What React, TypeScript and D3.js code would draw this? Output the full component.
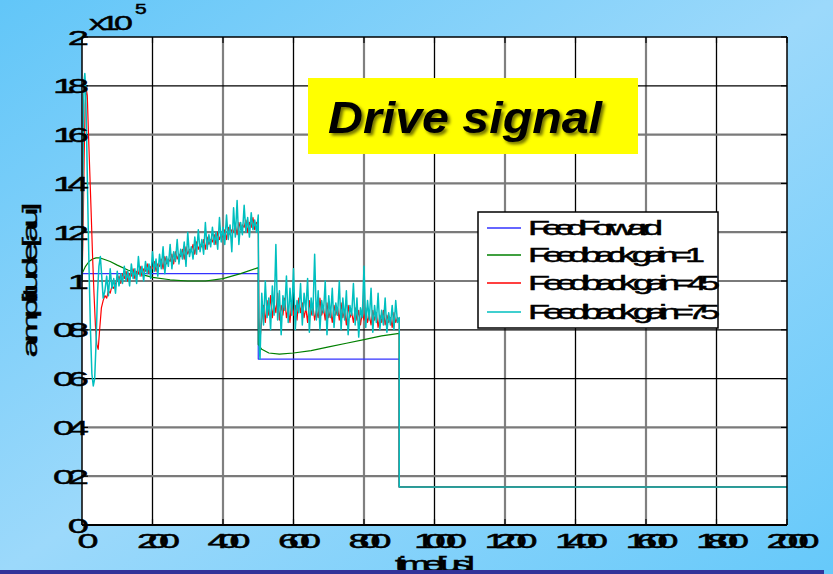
import React from 'react';
import * as d3 from 'd3';

const W = 833;
const H = 574;

const xTicks = [0, 200, 400, 600, 800, 1000, 1200, 1400, 1600, 1800, 2000];
const xTickLabels = ['0', '200', '400', '600', '800', '1000', '1200', '1400', '1600', '1800', '2000'];
const yTicks = [0, 0.2, 0.4, 0.6, 0.8, 1.0, 1.2, 1.4, 1.6, 1.8, 2.0];
const yTickLabels = ['0', '02', '04', '06', '08', '1', '12', '14', '16', '18', '2'];

const seriesNames = ['FeedForward', 'Feedback gain=1', 'Feedback gain=45', 'Feedback gain=75'];
const seriesColors = ['#3333ff', '#008000', '#ff0000', '#00bfbf'];

const titleText = 'Drive signal';
const xLabel = 'time[us]';
const yLabel = 'amplitude[au]';

// Feed forward (blue)
const ffTimes = [0, 500, 500, 900, 900, 2000];
const ffValues = [1.03, 1.03, 0.68, 0.68, 0.156, 0.156];

// Feedback gain = 1 (green)
const g1Times = [0, 10, 20, 30, 40, 50, 60, 80, 100, 130, 160, 200, 250, 300, 350, 400, 450, 500, 500, 510, 530, 560, 600, 650, 700, 750, 800, 850, 900, 900, 2000];
const g1Values = [1.03, 1.06, 1.08, 1.09, 1.095, 1.095, 1.09, 1.08, 1.065, 1.045, 1.03, 1.015, 1.005, 1.0, 1.0, 1.01, 1.03, 1.055, 0.74, 0.72, 0.705, 0.7, 0.705, 0.715, 0.73, 0.745, 0.76, 0.775, 0.785, 0.156, 0.156];

// Feedback gain = 4.5 (red)
const g45TransT = [0, 3, 6, 9, 12, 15, 18, 22, 26, 30, 34, 38, 42, 46, 50, 55, 60, 65, 70, 75, 80, 85, 90, 95];
const g45TransV = [1.0, 1.2, 1.5, 1.72, 1.79, 1.76, 1.62, 1.45, 1.28, 1.1, 0.95, 0.82, 0.74, 0.72, 0.8, 0.89, 0.92, 0.94, 0.93, 0.96, 0.95, 0.98, 0.97, 0.99];
// t = 100..500 every 5
const g45Ramp = [
  1.0, 1.02, 0.99, 1.03, 1.01, 1.04, 1.0, 1.03, 1.02, 1.05,
  1.01, 1.04, 1.03, 1.06, 1.02, 1.05, 1.04, 1.07, 1.03, 1.06,
  1.05, 1.08, 1.04, 1.07, 1.06, 1.09, 1.05, 1.1, 1.07, 1.09,
  1.08, 1.11, 1.07, 1.12, 1.09, 1.11, 1.1, 1.13, 1.09, 1.14,
  1.11, 1.13, 1.12, 1.15, 1.11, 1.16, 1.13, 1.15, 1.14, 1.17,
  1.13, 1.18, 1.15, 1.17, 1.16, 1.19, 1.15, 1.2, 1.17, 1.19,
  1.18, 1.21, 1.17, 1.22, 1.19, 1.21, 1.2, 1.23, 1.19, 1.24,
  1.21, 1.23, 1.22, 1.25, 1.2, 1.24, 1.22, 1.26, 1.21, 1.24,
  1.23,
];
const g45DropT = [502];
const g45DropV = [0.85];
// t = 505..900 every 5
const g45Flat = [
  0.76, 0.84, 0.9, 0.83, 0.92, 0.86, 0.94, 0.85, 0.91, 0.87,
  0.95, 0.84, 0.9, 0.86, 0.93, 0.85, 0.89, 0.83, 0.92, 0.86,
  0.9, 0.84, 0.93, 0.87, 0.91, 0.85, 0.89, 0.83, 0.92, 0.86,
  0.9, 0.84, 0.88, 0.85, 0.93, 0.86, 0.89, 0.84, 0.91, 0.85,
  0.88, 0.83, 0.9, 0.86, 0.89, 0.84, 0.91, 0.85, 0.88, 0.82,
  0.9, 0.85, 0.87, 0.83, 0.89, 0.84, 0.88, 0.82, 0.87, 0.84,
  0.89, 0.83, 0.86, 0.82, 0.88, 0.84, 0.87, 0.81, 0.86, 0.83,
  0.88, 0.82, 0.86, 0.83, 0.85, 0.81, 0.87, 0.83, 0.85, 0.84,
];

// Feedback gain = 7.5 (cyan)
const g75TransT = [0, 2, 4, 6, 8, 10, 13, 16, 20, 24, 28, 32, 36, 40, 44, 48, 52, 56, 60];
const g75TransV = [1.0, 1.3, 1.65, 1.82, 1.85, 1.8, 1.6, 1.35, 1.05, 0.8, 0.62, 0.57, 0.6, 0.75, 0.95, 1.06, 1.1, 1.02, 0.93];
// t = 65..500 every 5
const g75Ramp = [
  0.96, 1.02, 0.94, 1.05, 0.97, 1.01, 0.95, 1.04, 0.98, 1.03,
  0.99, 1.06, 1.0, 1.04, 0.98, 1.07, 1.01, 1.05, 0.99, 1.1,
  1.02, 1.06, 1.0, 1.08, 1.03, 1.07, 1.01, 1.12, 1.04, 1.09,
  1.02, 1.11, 1.05, 1.14, 1.03, 1.1, 1.06, 1.15, 1.05, 1.12,
  1.08, 1.17, 1.07, 1.13, 1.09, 1.16, 1.06, 1.2, 1.1, 1.14,
  1.09, 1.18, 1.11, 1.21, 1.12, 1.17, 1.11, 1.24, 1.13, 1.19,
  1.14, 1.22, 1.15, 1.2, 1.13, 1.26, 1.16, 1.22, 1.15, 1.27,
  1.17, 1.23, 1.12, 1.3, 1.18, 1.33, 1.15, 1.24, 1.19, 1.31,
  1.2, 1.26, 1.18, 1.28, 1.21, 1.25, 1.2, 1.27,
];
const g75DropT = [501, 503];
const g75DropV = [0.95, 0.72];
// t = 505..900 every 5
const g75Flat = [
  0.68, 0.95, 0.82, 1.0, 0.85, 0.93, 0.8, 0.98, 0.86, 1.15,
  0.84, 0.96, 0.78, 0.94, 0.88, 1.02, 0.83, 0.97, 0.86, 1.05,
  0.8, 0.92, 0.87, 0.99, 0.82, 0.95, 0.88, 1.01, 0.79, 0.93,
  0.86, 1.11, 0.84, 0.96, 0.8, 0.92, 0.87, 1.0, 0.78, 0.94,
  0.85, 0.97, 0.81, 0.91, 0.86, 1.0, 0.8, 0.93, 0.84, 0.96,
  0.78, 0.9, 0.86, 0.99, 0.82, 0.93, 0.77, 0.89, 0.85, 1.06,
  0.81, 0.92, 0.84, 0.97, 0.79, 0.9, 0.83, 0.95, 0.8, 0.88,
  0.82, 0.93, 0.79, 0.87, 0.82, 0.9, 0.8, 0.92, 0.83, 0.85,
];

const tailTimes = [900, 2000];
const tailValues = [0.156, 0.156];

type P = [number, number];
const zip = (ts: number[], vs: number[]): P[] => ts.map((t, i) => [t, vs[i]] as P);
const stepped = (start: number, step: number, vs: number[]): P[] => vs.map((v, i) => [start + step * i, v] as P);

const seriesData: P[][] = [
  zip(ffTimes, ffValues),
  zip(g1Times, g1Values),
  [...zip(g45TransT, g45TransV), ...stepped(100, 5, g45Ramp), ...zip(g45DropT, g45DropV), ...stepped(505, 5, g45Flat), ...zip(tailTimes, tailValues)],
  [...zip(g75TransT, g75TransV), ...stepped(65, 5, g75Ramp), ...zip(g75DropT, g75DropV), ...stepped(505, 5, g75Flat), ...zip(tailTimes, tailValues)],
];

const FONT = "'Liberation Sans', Arial, Helvetica, sans-serif";

function SText(props: { x: number; y: number; text: string; size: number; sx: number; width?: number; anchor?: string; rotate?: number; fill?: string }) {
  const { x, y, text, size, sx, width, anchor = 'start', rotate = 0, fill = '#000' } = props;
  const t = `translate(${x},${y})${rotate ? ` rotate(${rotate})` : ''} scale(${sx},1)`;
  const extra: any = {};
  if (width && text.length > 1) {
    extra.textLength = width / sx;
    extra.lengthAdjust = 'spacing';
  }
  return (
    <text transform={t} fontSize={size} textAnchor={anchor as any} fontFamily={FONT} fill={fill} stroke={fill} strokeWidth={0.45} {...extra}>
      {text}
    </text>
  );
}

export default function App() {
  const left = 82, right = 787, top = 37, bottom = 525;
  const x = d3.scaleLinear().domain([0, 2000]).range([left, right]);
  const y = d3.scaleLinear().domain([0, 2]).range([bottom, top]);
  const line = d3.line<P>().x((d) => x(d[0])).y((d) => y(d[1]));

  const vGridStyle = (i: number) => (i % 2 === 1 ? { stroke: '#808080', w: 2.2 } : { stroke: '#000', w: 1.3 });
  const hBlack = [0.6, 0.8, 1.8];
  const hGridStyle = (v: number) => (hBlack.some((b) => Math.abs(b - v) < 1e-6) ? { stroke: '#000', w: 1.3 } : { stroke: '#7a7a7a', w: 2.2 });

  const legendX = 478, legendY = 212, legendW = 240, legendH = 116;
  const legendRows = [16, 43, 71, 100];
  const legendWidths = [135, 177, 192, 192];

  const xLabelW = (s: string) => (s.length === 1 ? 21 : s.length === 3 ? 43 : 53);
  const yLabelW = (s: string) => (s.length === 1 ? 20 : 36);

  return (
    <svg width={W} height={H} style={{ position: 'absolute', left: 0, top: 0, display: 'block' }} xmlns="http://www.w3.org/2000/svg">
      <defs>
        <linearGradient id="bg" x1="0" y1="0" x2="1" y2="1">
          <stop offset="0" stopColor="#62c6f8" />
          <stop offset="0.5" stopColor="#9cd9fb" />
          <stop offset="1" stopColor="#66c9fa" />
        </linearGradient>
        <filter id="shadow" x="-10%" y="-20%" width="130%" height="150%">
          <feDropShadow dx="2.5" dy="2.5" stdDeviation="1.5" floodColor="#000" floodOpacity="0.55" />
        </filter>
      </defs>
      <rect x={0} y={0} width={W} height={H} fill="url(#bg)" />

      {/* plot area */}
      <rect x={left} y={top} width={right - left} height={bottom - top} fill="#fff" />

      {/* grid */}
      {xTicks.slice(1, -1).map((t, i) => {
        const s = vGridStyle(i);
        return <line key={'vg' + t} x1={x(t)} x2={x(t)} y1={top} y2={bottom} stroke={s.stroke} strokeWidth={s.w} />;
      })}
      {yTicks.slice(1, -1).map((t) => {
        const s = hGridStyle(t);
        return <line key={'hg' + t} x1={left} x2={right} y1={y(t)} y2={y(t)} stroke={s.stroke} strokeWidth={s.w} />;
      })}

      {/* ticks */}
      {yTicks.map((t) => (
        <g key={'yt' + t}>
          <line x1={left} x2={left + 6} y1={y(t)} y2={y(t)} stroke="#000" strokeWidth={1.2} />
          <line x1={right} x2={right - 6} y1={y(t)} y2={y(t)} stroke="#000" strokeWidth={1.2} />
        </g>
      ))}
      {xTicks.map((t) => (
        <g key={'xt' + t}>
          <line x1={x(t)} x2={x(t)} y1={bottom} y2={bottom - 6} stroke="#000" strokeWidth={1.2} />
          <line x1={x(t)} x2={x(t)} y1={top} y2={top + 6} stroke="#000" strokeWidth={1.2} />
        </g>
      ))}

      {/* series */}
      {seriesData.map((d, i) => (
        <path key={'s' + i} d={line(d) || ''} fill="none" stroke={seriesColors[i]} strokeWidth={i === 3 ? 1.5 : 1.2} strokeLinejoin="round" />
      ))}

      {/* axes box */}
      <line x1={left} x2={right} y1={top} y2={top} stroke="#000" strokeWidth={1.5} />
      <line x1={right} x2={right} y1={top} y2={bottom} stroke="#000" strokeWidth={1.5} />
      <line x1={left} x2={left} y1={top} y2={bottom} stroke="#000" strokeWidth={1.5} />
      <line x1={left} x2={right} y1={bottom} y2={bottom} stroke="#000" strokeWidth={2} />

      {/* y tick labels */}
      {yTicks.map((t, i) => (
        <SText key={'yl' + t} x={89} y={y(t) + 7.5} text={yTickLabels[i]} size={20} sx={1.9} width={yLabelW(yTickLabels[i])} anchor="end" />
      ))}
      {/* x tick labels */}
      {xTicks.map((t, i) => (
        <SText key={'xl' + t} x={x(t) + 6} y={548} text={xTickLabels[i]} size={21} sx={1.8} width={xLabelW(xTickLabels[i])} anchor="middle" />
      ))}

      {/* exponent */}
      <SText x={89} y={30} text="x10" size={20} sx={1.7} width={44} />
      <SText x={135} y={14} text="5" size={14} sx={1.5} />

      {/* axis labels */}
      <SText x={37} y={280} text={yLabel} size={20} sx={1.8} width={155} anchor="middle" rotate={-90} />
      <SText x={435} y={571} text={xLabel} size={20} sx={1.8} width={80} anchor="middle" />

      {/* title box */}
      <rect x={308} y={78} width={330} height={76} fill="#ffff00" />
      <text
        x={328}
        y={133}
        fontSize={44}
        fontWeight="bold"
        fontStyle="italic"
        fontFamily={FONT}
        textLength={274}
        lengthAdjust="spacingAndGlyphs"
        filter="url(#shadow)"
        fill="#000"
      >
        {titleText}
      </text>

      {/* legend */}
      <rect x={legendX} y={legendY} width={legendW} height={legendH} fill="#fff" stroke="#000" strokeWidth={1.5} />
      {seriesNames.map((n, i) => (
        <g key={'lg' + i}>
          <line x1={legendX + 9} x2={legendX + 43} y1={legendY + legendRows[i]} y2={legendY + legendRows[i]} stroke={seriesColors[i]} strokeWidth={1.3} />
          <SText x={legendX + 50} y={legendY + legendRows[i] + 7} text={n} size={20} sx={1.8} width={legendWidths[i]} />
        </g>
      ))}

      {/* bottom band */}
      <rect x={0} y={570} width={824} height={4} fill="#333399" />
    </svg>
  );
}
